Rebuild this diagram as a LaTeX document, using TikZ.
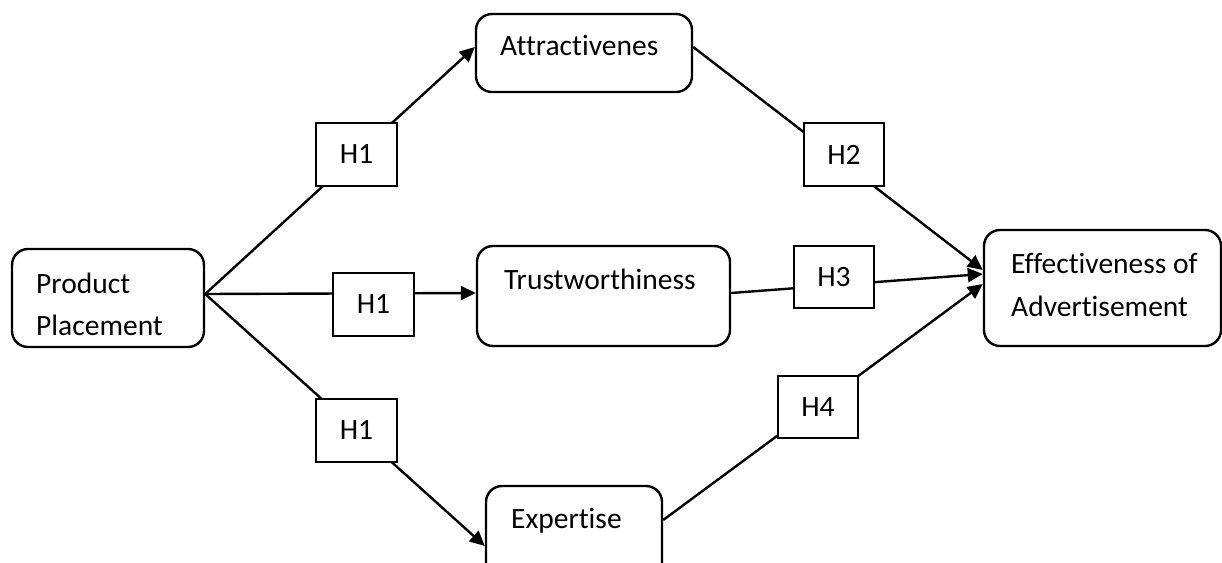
\documentclass[tikz,border=0pt]{standalone}
\usepackage{fontspec}
\setmainfont{Carlito}[Ligatures=NoCommon]
\usetikzlibrary{arrows.meta}
\begin{document}
\begin{tikzpicture}[x=1pt,y=-1pt,
  every node/.style={font=\fontsize{29.5}{42}\selectfont},
  mainbox/.style={draw,line width=2.4pt,rounded corners=16pt,inner sep=0pt,fill=white},
  hbox/.style={draw,line width=2.4pt,fill=white,inner sep=0pt,minimum width=81pt,minimum height=63pt},
  txt/.style={anchor=base west,inner sep=0pt},
  conn/.style={line width=2.4pt,-{Triangle[length=15pt,width=14pt]}},
  plain/.style={line width=2.4pt}]
\useasboundingbox (0,0) rectangle (1222,562);
\clip (0,0) rectangle (1222,562);
\fill[white] (0,0) rectangle (1222,562);
% main boxes
\node[mainbox,minimum width=192pt,minimum height=98pt] (pp) at (108,298) {};
\node[mainbox,minimum width=216pt,minimum height=78pt] (att) at (584,53) {};
\node[mainbox,minimum width=253pt,minimum height=100pt] (tru) at (603.5,296) {};
\node[mainbox,minimum width=176pt,minimum height=94pt] (exp) at (574,533) {};
\node[mainbox,minimum width=237pt,minimum height=116pt] (eff) at (1102.5,288) {};
% texts
\node[txt] (pp1) at (36,293) {Product};
\node[txt] (pp2) at (36,335) {Placement};
\node[txt] (attt) at (500,55) {Attractivenes};
\node[txt] (trut) at (504,289) {Trustworthiness};
\node[txt] (expt) at (511,528) {Expertise};
\node[txt] (eff1) at (1011,273) {Effectiveness of};
\node[txt] (eff2) at (1011,316) {Advertisement};
% connectors
\draw[conn] ([yshift=4pt]pp.east) -- ([yshift=6pt]att.west);
\draw[conn] ([yshift=4pt]pp.east) -- ([yshift=3pt]tru.west);
\draw[conn] ([yshift=4pt]pp.east) -- ([yshift=-13pt]exp.west);
\draw[conn] ([yshift=6pt]att.east) -- ([yshift=18pt]eff.west);
\draw[conn] ([yshift=3pt]tru.east) -- ([yshift=14pt]eff.west);
\draw[conn] ([yshift=13pt]exp.east) -- ([yshift=4pt]eff.west);
% hypothesis boxes
\node[hbox] (h1a) at (356.5,154.5) {H1};
\node[hbox] (h1b) at (373.5,304.5) {H1};
\node[hbox] (h1c) at (356.5,430.5) {H1};
\node[hbox,minimum width=80pt] (h2) at (844,154.5) {H2};
\node[hbox,minimum width=80pt,minimum height=62pt] (h3) at (834,277) {H3};
\node[hbox,minimum width=80pt,minimum height=62pt] (h4) at (818,407) {H4};
\end{tikzpicture}
\end{document}
